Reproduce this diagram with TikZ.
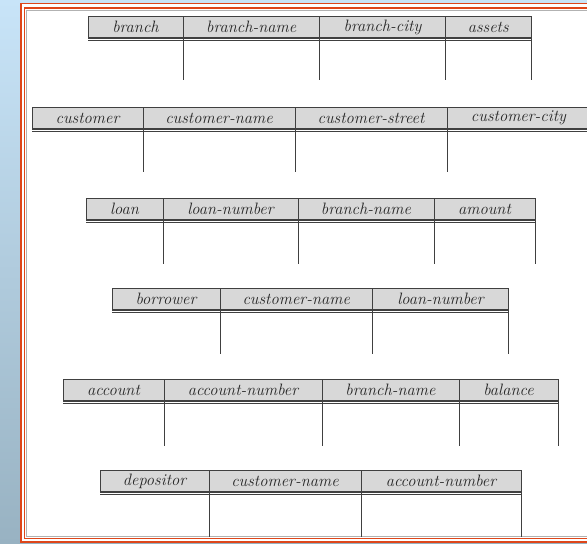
\documentclass[tikz,border=0pt]{standalone}
\usepackage{tikz}
\usetikzlibrary{positioning}
\definecolor{hdrgray}{RGB}{216, 216, 216}
\definecolor{linegray}{RGB}{64, 64, 64}
\definecolor{framered}{RGB}{222, 70, 26}
\definecolor{bgtop}{RGB}{200, 228, 248}
\definecolor{bgbot}{RGB}{152, 178, 194}
\tikzset{>=latex}
\tikzset{
  hdr/.style = {draw = linegray, fill = hdrgray, line width = 1pt, rectangle,
    inner sep = 0pt, outer sep = 0pt, minimum height = 22pt,
    font = \fontsize{16.5}{19}\selectfont\itshape, text = black!85},
  rule/.style = {draw = linegray, line width = 1pt}
}

\begin{document}
\begin{tikzpicture}[x = 1pt, y = -1pt]
\useasboundingbox (0, 0) rectangle (587, 544);
\clip (0, 0) rectangle (587, 544);
% background and frame
\shade[top color = bgtop, bottom color = bgbot] (0, 0) rectangle (587, 544);
\fill[white] (21, 3.5) rectangle (600, 542);
\draw[framered, line width = 1.6pt] (21, 3.5) rectangle (600, 542);
\draw[framered, line width = 1.2pt] (24.5, 8) rectangle (600, 538.5);
\draw[black!30, line width = 0.5pt] (26.6, 10) rectangle (600, 536.6);

% branch
\node[hdr, minimum width = 95pt, anchor = north west] (branch) at (88, 16) {branch};
\node[hdr, minimum width = 136.5pt, right = 0pt of branch] (bname1) {branch-name};
\node[hdr, minimum width = 126pt, right = 0pt of bname1] (bcity) {branch-city};
\node[hdr, minimum width = 85.5pt, right = 0pt of bcity] (assets) {assets};
\draw[rule, line width = 1.3pt] (branch.south west) -- (assets.south east);
\draw[rule] ([yshift = -2.8pt]branch.south west) -- ([yshift = -2.8pt]assets.south east);
\foreach \c in {bname1, bcity, assets}
  \draw[rule] (\c.south west) -- ++(0, 42);
\draw[rule] (assets.south east) -- ++(0, 42);

% customer
\node[hdr, minimum width = 111pt, anchor = north west] (customer) at (32, 107) {customer};
\node[hdr, minimum width = 152pt, right = 0pt of customer] (cname1) {customer-name};
\node[hdr, minimum width = 152pt, right = 0pt of cname1] (cstreet) {customer-street};
\node[hdr, minimum width = 143pt, right = 0pt of cstreet] (ccity) {customer-city};
\draw[rule, line width = 1.3pt] (customer.south west) -- (ccity.south east);
\draw[rule] ([yshift = -2.8pt]customer.south west) -- ([yshift = -2.8pt]ccity.south east);
\foreach \c in {cname1, cstreet, ccity}
  \draw[rule] (\c.south west) -- ++(0, 43);
\draw[rule] (ccity.south east) -- ++(0, 43);

% loan
\node[hdr, minimum width = 77pt, anchor = north west] (loan) at (86, 198) {loan};
\node[hdr, minimum width = 135pt, right = 0pt of loan] (lnumber1) {loan-number};
\node[hdr, minimum width = 136pt, right = 0pt of lnumber1] (bname2) {branch-name};
\node[hdr, minimum width = 101pt, right = 0pt of bname2] (amount) {amount};
\draw[rule, line width = 1.3pt] (loan.south west) -- (amount.south east);
\draw[rule] ([yshift = -2.8pt]loan.south west) -- ([yshift = -2.8pt]amount.south east);
\foreach \c in {lnumber1, bname2, amount}
  \draw[rule] (\c.south west) -- ++(0, 44);
\draw[rule] (amount.south east) -- ++(0, 44);

% borrower
\node[hdr, minimum width = 108pt, anchor = north west] (borrower) at (112, 288) {borrower};
\node[hdr, minimum width = 152.5pt, right = 0pt of borrower] (cname2) {customer-name};
\node[hdr, minimum width = 136pt, right = 0pt of cname2] (lnumber2) {loan-number};
\draw[rule, line width = 1.3pt] (borrower.south west) -- (lnumber2.south east);
\draw[rule] ([yshift = -2.8pt]borrower.south west) -- ([yshift = -2.8pt]lnumber2.south east);
\foreach \c in {cname2, lnumber2}
  \draw[rule] (\c.south west) -- ++(0, 44);
\draw[rule] (lnumber2.south east) -- ++(0, 44);

% account
\node[hdr, minimum width = 101pt, anchor = north west] (account) at (63, 379) {account};
\node[hdr, minimum width = 158pt, right = 0pt of account] (anumber1) {account-number};
\node[hdr, minimum width = 137pt, right = 0pt of anumber1] (bname3) {branch-name};
\node[hdr, minimum width = 99pt, right = 0pt of bname3] (balance) {balance};
\draw[rule, line width = 1.3pt] (account.south west) -- (balance.south east);
\draw[rule] ([yshift = -2.8pt]account.south west) -- ([yshift = -2.8pt]balance.south east);
\foreach \c in {anumber1, bname3, balance}
  \draw[rule] (\c.south west) -- ++(0, 45);
\draw[rule] (balance.south east) -- ++(0, 45);

% depositor
\node[hdr, minimum width = 109pt, anchor = north west] (depositor) at (100, 470) {depositor};
\node[hdr, minimum width = 152pt, right = 0pt of depositor] (cname3) {customer-name};
\node[hdr, minimum width = 160pt, right = 0pt of cname3] (anumber2) {account-number};
\draw[rule, line width = 1.3pt] (depositor.south west) -- (anumber2.south east);
\draw[rule] ([yshift = -2.8pt]depositor.south west) -- ([yshift = -2.8pt]anumber2.south east);
\foreach \c in {cname3, anumber2}
  \draw[rule] (\c.south west) -- ++(0, 45);
\draw[rule] (anumber2.south east) -- ++(0, 45);
\end{tikzpicture}
\end{document}
